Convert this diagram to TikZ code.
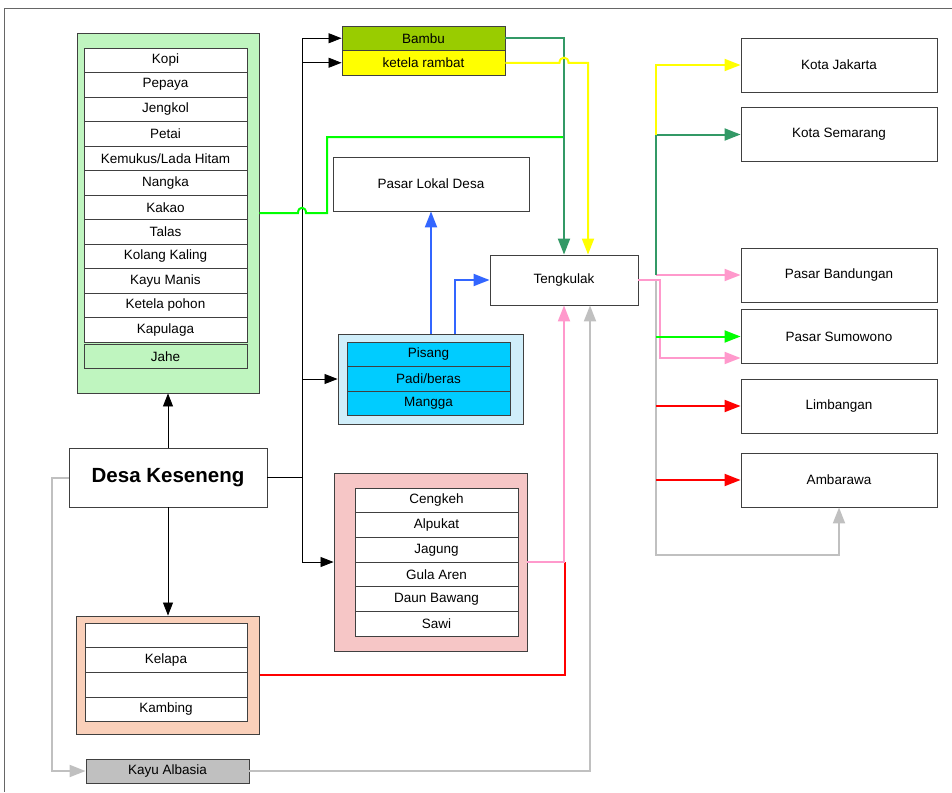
\documentclass[tikz,border=0pt]{standalone}
\usepackage{fontspec}
\setmainfont{Liberation Sans}
\usetikzlibrary{arrows.meta,calc}
\definecolor{dkgreen}{HTML}{339966}
\definecolor{ylw}{HTML}{FFFF00}
\definecolor{brgreen}{HTML}{00FF00}
\definecolor{pnk}{HTML}{FF99CC}
\definecolor{rd}{HTML}{FF0000}
\definecolor{gry}{HTML}{C0C0C0}
\definecolor{blu}{HTML}{3366FF}
\definecolor{bambuc}{HTML}{99CC00}
\definecolor{cyanc}{HTML}{00CCFF}
\definecolor{grnbg}{HTML}{BFF5BF}
\definecolor{pnkbg}{HTML}{F6C6C6}
\definecolor{orgbg}{HTML}{FAD0BA}
\definecolor{blubg}{HTML}{D0EEFA}
\definecolor{frm}{HTML}{404040}
\tikzset{
  box/.style={draw=frm, line width=0.9pt, fill=white, inner sep=0pt, align=center,
    font=\fontsize{13.5}{15}\selectfont},
  outer/.style={draw=frm, line width=0.9pt, inner sep=0pt},
  cell/.style={box, minimum width=163pt, minimum height=24.5pt},
  blk/.style={draw=black, line width=0.8pt, -{Triangle[length=13pt,width=10pt]}},
  col/.style={line width=2pt},
  colarr/.style={line width=2pt, -{Triangle[length=16pt,width=12pt]}}
}
\begin{document}
\begin{tikzpicture}[x=1pt,y=-1pt]
\useasboundingbox (0,0) rectangle (952,792);
\draw[black!60, line width=0.9pt] (952,8) -- (4.5,8) -- (4.5,792);

% green group
\node[outer, fill=grnbg, minimum width=182pt, minimum height=360pt] (gout) at (168,213) {};
\foreach [count=\i] \t in {Kopi,Pepaya,Jengkol,Petai,Kemukus/Lada Hitam,Nangka,Kakao,Talas,Kolang Kaling,Kayu Manis,Ketela pohon,Kapulaga}
  \node[cell] (g\i) at (165.5,{48+24.5*(\i-0.5)}) {\t};
\node[cell, fill=grnbg] (jahe) at (165.5,356.5) {Jahe};

% Bambu
\node[cell, fill=bambuc] (bambu) at (423.5,38.25) {Bambu};
\node[cell, fill=ylw] (ketela) at (423.5,62.75) {ketela rambat};

% Pasar lokal, Tengkulak
\node[box, minimum width=196pt, minimum height=54pt] (plokal) at (431,184) {Pasar Lokal Desa};
\node[box, minimum width=148pt, minimum height=50pt] (tengk) at (564,280) {Tengkulak};

% blue group
\node[outer, fill=blubg, minimum width=185pt, minimum height=90pt] (bout) at (430.5,379) {};
\foreach [count=\i] \t in {Pisang,Padi/beras,Mangga}
  \node[cell, fill=cyanc] (b\i) at (428.5,{342+24.5*(\i-0.5)}) {\t};

% Desa
\node[box, minimum width=198pt, minimum height=59pt, font=\fontsize{20.5}{24}\selectfont\bfseries] (desa) at (168,477.5) {Desa Keseneng};

% pink group
\node[outer, fill=pnkbg, minimum width=193pt, minimum height=178pt] (pout) at (430.5,562) {};
\foreach [count=\i] \t in {Cengkeh,Alpukat,Jagung,Gula Aren,Daun Bawang,Sawi}
  \node[cell, minimum height=24.7pt] (p\i) at (436.5,{488+24.7*(\i-0.5)}) {\t};

% orange group
\node[outer, fill=orgbg, minimum width=183pt, minimum height=118pt] (oout) at (168,675) {};
\foreach [count=\i] \t in {{},Kelapa,{},Kambing}
  \node[cell, minimum width=162pt, minimum height=24.7pt] (o\i) at (166,{623+24.7*(\i-0.5)}) {\t};

% Kayu Albasia
\node[cell, fill=gry, minimum height=24pt] (kayu) at (167.5,771) {Kayu Albasia};

% right boxes
\foreach \n/\t/\yy in {jak/Kota Jakarta/65, sem/Kota Semarang/134.5, band/Pasar Bandungan/275,
  sumo/Pasar Sumowono/336.5, limb/Limbangan/406, amb/Ambarawa/480}
  \node[box, minimum width=196pt, minimum height=54pt] (\n) at (839,\yy) {\t};

\coordinate (jx) at (302,0);
\coordinate (rx) at (656,0);

% black connectors
\draw[blk] (desa.north) -- (desa.north |- gout.south);
\draw[blk] (desa.south) -- (desa.south |- oout.north);
\draw[blk] (desa.east) -| (jx |- bambu.west) -- (bambu.west);
\draw[blk] (jx |- ketela.west) -- (ketela.west);
\draw[blk] (jx |- bout.west) -- (bout.west);
\draw[blk] (desa.east -| jx) |- (pout.west);

% gray
\draw[gry, colarr] (desa.west) -- ++(-17,0) |- (kayu.west);
\draw[gry, colarr] (kayu.east) -| ($(tengk.south)+(26,0)$);

% green line with hop
\draw[brgreen, col] (gout.east) -- (298,213) .. controls (298,206) and (306,206) .. (306,213)
  -- (327,213) -- (327,137) -- (564,137);
% dark green
\draw[dkgreen, colarr] (bambu.east) -| (tengk.north);
% yellow with hop
\draw[ylw, colarr] (ketela.east) -- (559.5,62.75) .. controls (559.5,56) and (568.5,56) .. (568.5,62.75)
  -- (588,62.75) -- ($(tengk.north)+(24,0)$);
% blue
\draw[blu, colarr] (bout.north -| plokal.south) -- (plokal.south);
\draw[blu, colarr] ($(bout.north)+(24.5,0)$) |- (tengk.west);
% pink and red from below
\draw[rd, col] (oout.east) -| (565,562);
\draw[pnk, colarr] (pout.east) -| (tengk.south);

% right side
\draw[gry, colarr] (tengk.east) -- (rx |- tengk.east) -- (656,555) -| (amb.south);
\draw[pnk, colarr] (tengk.east) -- (660,280) -- (660,358) -- (sumo.west |- 0,358);
\draw[pnk, colarr] (rx |- band.west) -- (band.west);
\draw[dkgreen, col] (rx |- band.west) -- (rx |- sem.west);
\draw[dkgreen, colarr] (rx |- sem.west) -- (sem.west);
\draw[ylw, colarr] (rx |- sem.west) |- (jak.west);
\draw[brgreen, colarr] (rx |- sumo.west) -- (sumo.west);
\draw[rd, colarr] (rx |- limb.west) -- (limb.west);
\draw[rd, colarr] (rx |- amb.west) -- (amb.west);
\end{tikzpicture}
\end{document}
